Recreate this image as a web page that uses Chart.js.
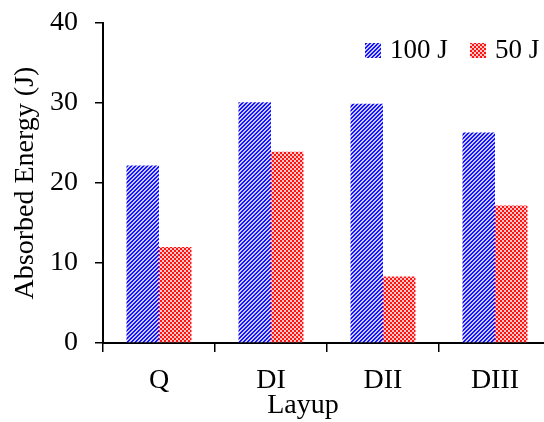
<!DOCTYPE html>
<html>
<head>
<meta charset="utf-8">
<script src="https://cdn.jsdelivr.net/npm/chart.js@4"></script>
<style>
  html, body { margin: 0; padding: 0; background: #fff; overflow: hidden; }
  #wrap { width: 544px; height: 422px; overflow: hidden; }
</style>
</head>
<body>
<div id="wrap"><canvas id="myChart" width="552" height="422"></canvas></div>
<script>
// data
const layups = ["Q", "DI", "DII", "DIII"];
const energy100 = [22.2, 30.1, 29.9, 26.3];
const energy50 = [12.0, 23.9, 8.3, 17.2];
const yTicks = [0, 10, 20, 30, 40];

const serif = "'Liberation Serif', 'Times New Roman', Times, serif";

// hatch patterns for the bars
function makePattern(draw) {
  const c = document.createElement("canvas");
  c.width = 4;
  c.height = 4;
  draw(c.getContext("2d"));
  return c.getContext("2d").createPattern(c, "repeat");
}

const bluePattern = makePattern(function (p) {
  p.fillStyle = "#cacaff";
  p.fillRect(0, 0, 4, 4);
  p.fillStyle = "#1414ff";
  for (let y = 0; y < 4; y++) {
    for (let x = 0; x < 4; x++) {
      if ((x + y) % 4 < 2) p.fillRect(x, y, 1, 1);
    }
  }
});

const redPattern = makePattern(function (p) {
  p.fillStyle = "#ffc8c8";
  p.fillRect(0, 0, 4, 4);
  p.fillStyle = "#ff1414";
  p.fillRect(0, 0, 2, 2);
  p.fillRect(2, 2, 2, 2);
});

// x axis title (sits a bit left of centre) and the legend inside the plot
const extras = {
  id: "extras",
  afterDraw(chart) {
    const c = chart.ctx;
    c.save();
    c.fillStyle = "#000";
    c.font = "28px " + serif;
    c.textAlign = "center";
    c.textBaseline = "alphabetic";
    c.fillText("Layup", 303, 413);

    // legend
    const spots = [365, 470];
    c.font = "27px " + serif;
    c.textAlign = "left";
    chart.data.datasets.forEach(function (ds, i) {
      c.fillStyle = ds.backgroundColor;
      c.fillRect(spots[i], 43, 16, 15);
      c.fillStyle = "#000";
      c.fillText(ds.label, spots[i] + 25, 58);
    });
    c.restore();
  },
};

function build() {
  var ctx = document.getElementById("myChart").getContext("2d");
  var myChart = new Chart(ctx, {
    type: "bar",
    data: {
      labels: layups,
      datasets: [
        {
          label: "100 J",
          data: energy100,
          backgroundColor: bluePattern,
          borderWidth: 0,
        },
        {
          label: "50 J",
          data: energy50,
          backgroundColor: redPattern,
          borderWidth: 0,
        },
      ],
    },
    options: {
      responsive: false,
      animation: false,
      categoryPercentage: 0.58,
      barPercentage: 1,
      layout: {
        padding: { top: 0, right: 1, left: 0, bottom: 0 },
      },
      scales: {
        x: {
          afterFit: function (scale) {
            scale.height = 79;
          },
          border: { display: true, color: "#000", width: 2 },
          grid: {
            display: true,
            offset: true,
            drawOnChartArea: false,
            drawTicks: true,
            tickLength: 9,
            color: "#000",
            lineWidth: 1.5,
          },
          ticks: {
            color: "#000",
            padding: 12,
            maxRotation: 0,
            font: { family: serif, size: 28 },
          },
        },
        y: {
          min: 0,
          max: 40,
          afterFit: function (scale) {
            scale.width = 103;
            scale.paddingTop = 23;
            scale.paddingBottom = 0;
          },
          afterBuildTicks: function (scale) {
            scale.ticks = yTicks.map(function (v) {
              return { value: v };
            });
          },
          border: { display: true, color: "#000", width: 2 },
          grid: {
            display: true,
            drawOnChartArea: false,
            drawTicks: true,
            tickLength: 8,
            color: "#000",
            lineWidth: 1.5,
          },
          ticks: {
            color: "#000",
            padding: 17,
            font: { family: serif, size: 28 },
          },
          title: {
            display: true,
            text: "Absorbed Energy (J)",
            color: "#000",
            padding: { top: 9, bottom: 0 },
            font: { family: serif, size: 28 },
          },
        },
      },
      plugins: {
        legend: { display: false },
        tooltip: { enabled: false },
      },
    },
    plugins: [extras],
  });
}

document.fonts.load("28px 'Liberation Serif'").then(build, build);
</script>
</body>
</html>
